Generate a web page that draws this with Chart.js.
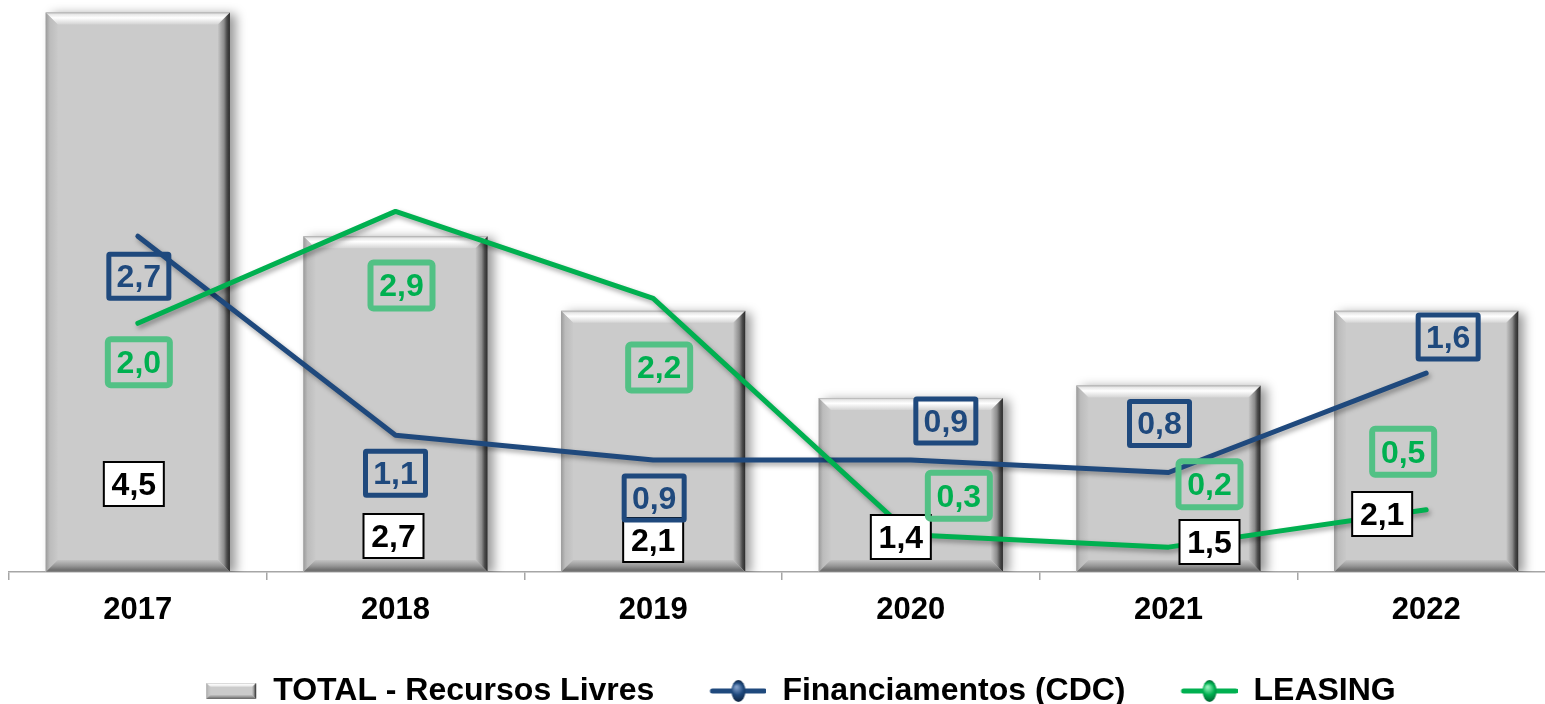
<!DOCTYPE html>
<html>
<head>
<meta charset="utf-8">
<script src="https://cdn.jsdelivr.net/npm/chart.js"></script>
<style>
  html, body { margin: 0; padding: 0; background: #fff; overflow: hidden; }
  #wrap { position: absolute; left: 0; top: 0; width: 1555px; height: 717px; }
</style>
</head>
<body>
<div id="wrap"><canvas id="chart"></canvas></div>
<script>
var years = ['2017', '2018', '2019', '2020', '2021', '2022'];
var totalLivres = [4.5, 2.7, 2.1, 1.4, 1.5, 2.1];
var cdc = [2.7, 1.1, 0.9, 0.9, 0.8, 1.6];
var leasing = [2.0, 2.9, 2.2, 0.3, 0.2, 0.5];

// where the value boxes sit, in pixels from the bar base / line point
var totalLabelDx = [-4, -2, 0, -10, 41, -44];
var totalLabelDy = [-88, -36, -32, -35, -30, -58];
var cdcLabelDx = [1, 0, 1, 35, -9, 22];
var cdcLabelDy = [40, 38, 38, -39, -49, -36];
var leasingLabelDx = [1, 6, 6, 48, 41, -23];
var leasingLabelDy = [39, 74, 69, -39, -63, -58];

var BLUE = '#1f497d';
var GREEN = '#00b050';
var FONT = '"Liberation Sans", Arial, sans-serif';

Chart.defaults.font.family = FONT;

function poly(ctx, pts, fill) {
    ctx.beginPath();
    ctx.moveTo(pts[0][0], pts[0][1]);
    for (var i = 1; i < pts.length; i++) ctx.lineTo(pts[i][0], pts[i][1]);
    ctx.closePath();
    ctx.fillStyle = fill;
    ctx.fill();
}

function bevelRect(ctx, x0, y0, x1, y1, b) {
    ctx.fillStyle = '#cbcbcb';
    ctx.fillRect(x0, y0, x1 - x0, y1 - y0);
    var g = ctx.createLinearGradient(0, y0, 0, y0 + b);
    g.addColorStop(0, '#a9a9a9');
    g.addColorStop(0.15, '#e6e6e6');
    g.addColorStop(0.45, '#ffffff');
    g.addColorStop(1, '#d4d4d4');
    poly(ctx, [[x0, y0], [x1, y0], [x1 - b, y0 + b], [x0 + b, y0 + b]], g);
    g = ctx.createLinearGradient(x0, 0, x0 + b, 0);
    g.addColorStop(0, '#9a9a9a');
    g.addColorStop(0.35, '#bcbcbc');
    g.addColorStop(1, '#c9c9c9');
    poly(ctx, [[x0, y0], [x0 + b, y0 + b], [x0 + b, y1 - b], [x0, y1]], g);
    g = ctx.createLinearGradient(x1 - b, 0, x1, 0);
    g.addColorStop(0, '#c6c6c6');
    g.addColorStop(0.5, '#8c8c8c');
    g.addColorStop(0.75, '#4c4c4c');
    g.addColorStop(1, '#2a2a2a');
    poly(ctx, [[x1, y0], [x1, y1], [x1 - b, y1 - b], [x1 - b, y0 + b]], g);
    g = ctx.createLinearGradient(0, y1 - b, 0, y1);
    g.addColorStop(0, '#c2c2c2');
    g.addColorStop(0.5, '#959595');
    g.addColorStop(0.85, '#6c6c6c');
    g.addColorStop(1, '#8a8a8a');
    poly(ctx, [[x0, y1], [x1, y1], [x1 - b, y1 - b], [x0 + b, y1 - b]], g);
}

function makeBarIcon() {
    var c = document.createElement('canvas');
    c.width = 89; c.height = 20;
    bevelRect(c.getContext('2d'), 38, 2, 88, 18, 4);
    return c;
}

function makeLineIcon(color, light, dark) {
    var c = document.createElement('canvas');
    c.width = 89; c.height = 26;
    var x = c.getContext('2d');
    x.strokeStyle = color;
    x.lineWidth = 5;
    x.lineCap = 'round';
    x.beginPath();
    x.moveTo(35, 13);
    x.lineTo(87, 13);
    x.stroke();
    var g = x.createRadialGradient(59, 9, 1, 61, 13, 11);
    g.addColorStop(0, light);
    g.addColorStop(0.5, color);
    g.addColorStop(1, dark);
    x.fillStyle = g;
    x.beginPath();
    x.ellipse(61, 13, 7, 11, 0, 0, Math.PI * 2);
    x.fill();
    return c;
}

var legendIcons = [
    makeBarIcon(),
    makeLineIcon(BLUE, '#7d9cc8', '#0f2440'),
    makeLineIcon(GREEN, '#8ff0b8', '#006030')
];

function fmt(v) {
    return v.toFixed(1).replace('.', ',');
}

var shadowPlugin = {
    id: 'shadows',
    beforeDatasetDraw: function (chart, args) {
        var ctx = chart.ctx;
        ctx.save();
        if (args.index === 0) {
            ctx.shadowColor = 'rgba(0,0,0,0.4)';
            ctx.shadowBlur = 10;
            ctx.shadowOffsetX = 6;
            ctx.shadowOffsetY = 2;
        } else {
            ctx.shadowColor = 'rgba(0,0,0,0.35)';
            ctx.shadowBlur = 5;
            ctx.shadowOffsetX = 2;
            ctx.shadowOffsetY = 3;
        }
    },
    afterDatasetDraw: function (chart, args) {
        var ctx = chart.ctx;
        ctx.restore();
        if (args.index !== 0) return;
        args.meta.data.forEach(function (bar) {
            var p = bar.getProps(['x', 'y', 'width', 'base'], true);
            bevelRect(ctx, p.x - p.width / 2, p.y, p.x + p.width / 2, p.base, 12);
        });
    }
};

var labelStyles = [
    { dx: totalLabelDx, dy: totalLabelDy, fromBase: true, w: 62, h: 46, lw: 2, stroke: '#000', fill: '#fff', text: '#000', r: 0 },
    { dx: cdcLabelDx, dy: cdcLabelDy, fromBase: false, w: 65, h: 49, lw: 5, stroke: BLUE, fill: null, text: BLUE, r: 1 },
    { dx: leasingLabelDx, dy: leasingLabelDy, fromBase: false, w: 68, h: 52, lw: 6, stroke: '#52c185', fill: null, text: GREEN, r: 3 }
];

var valueBoxPlugin = {
    id: 'valueBoxes',
    afterDatasetsDraw: function (chart) {
        var ctx = chart.ctx;
        ctx.save();
        ctx.font = 'bold 32px ' + FONT;
        ctx.textAlign = 'center';
        ctx.textBaseline = 'middle';
        labelStyles.forEach(function (st, di) {
            var meta = chart.getDatasetMeta(di);
            var values = chart.data.datasets[di].data;
            meta.data.forEach(function (el, i) {
                var p = el.getProps(['x', 'y', 'base'], true);
                var cx = p.x + st.dx[i];
                var cy = (st.fromBase ? p.base : p.y) + st.dy[i];
                var half = st.lw / 2;
                var bx = cx - st.w / 2 + half, by = cy - st.h / 2 + half;
                var bw = st.w - st.lw, bh = st.h - st.lw;
                ctx.beginPath();
                ctx.roundRect(bx, by, bw, bh, st.r);
                if (st.fill) {
                    ctx.fillStyle = st.fill;
                    ctx.fill();
                }
                ctx.lineWidth = st.lw;
                ctx.strokeStyle = st.stroke;
                ctx.stroke();
                ctx.fillStyle = st.text;
                ctx.fillText(fmt(values[i]), cx, cy + 2);
            });
        });
        ctx.restore();
    }
};

var ctx = document.getElementById('chart');
new Chart(ctx, {
    type: 'bar',
    data: {
        labels: years,
        datasets: [
            {
                label: 'TOTAL - Recursos Livres',
                data: totalLivres,
                backgroundColor: '#cbcbcb',
                borderWidth: 0,
                categoryPercentage: 1,
                barPercentage: 0.715,
                order: 3
            },
            {
                type: 'line',
                label: 'Financiamentos (CDC)',
                data: cdc,
                borderColor: BLUE,
                backgroundColor: BLUE,
                borderWidth: 5,
                borderCapStyle: 'round',
                borderJoinStyle: 'round',
                lineTension: 0,
                pointRadius: 0,
                pointHoverRadius: 0,
                fill: false,
                order: 2
            },
            {
                type: 'line',
                label: 'LEASING',
                data: leasing,
                borderColor: GREEN,
                backgroundColor: GREEN,
                borderWidth: 5,
                borderCapStyle: 'round',
                borderJoinStyle: 'round',
                lineTension: 0,
                pointRadius: 0,
                pointHoverRadius: 0,
                fill: false,
                order: 1
            }
        ]
    },
    options: {
        responsive: true,
        maintainAspectRatio: false,
        animation: false,
        events: [],
        layout: { padding: { left: 9, right: 0, top: 0, bottom: 0 } },
        scales: {
            x: {
                offset: true,
                grid: {
                    offset: true,
                    drawOnChartArea: false,
                    drawTicks: true,
                    tickLength: 8,
                    color: '#a6a6a6',
                    lineWidth: 1.5
                },
                border: { display: true, color: '#a6a6a6', width: 1.5 },
                ticks: {
                    color: '#000',
                    padding: 12,
                    font: { size: 31, weight: 'bold', family: FONT }
                },
                afterFit: function (scale) { scale.height = 80; }
            },
            y: {
                display: false,
                min: 0,
                max: 4.6
            }
        },
        plugins: {
            tooltip: { enabled: false },
            legend: {
                position: 'bottom',
                labels: {
                    usePointStyle: true,
                    pointStyleWidth: 89,
                    padding: 23,
                    color: '#000',
                    font: { size: 32, weight: 'bold', family: FONT },
                    generateLabels: function (chart) {
                        var items = Chart.defaults.plugins.legend.labels.generateLabels(chart);
                        items.forEach(function (it) {
                            it.pointStyle = legendIcons[it.datasetIndex];
                        });
                        items.sort(function (a, b) { return a.datasetIndex - b.datasetIndex; });
                        return items;
                    }
                }
            }
        }
    },
    plugins: [shadowPlugin, valueBoxPlugin]
});
</script>
</body>
</html>
